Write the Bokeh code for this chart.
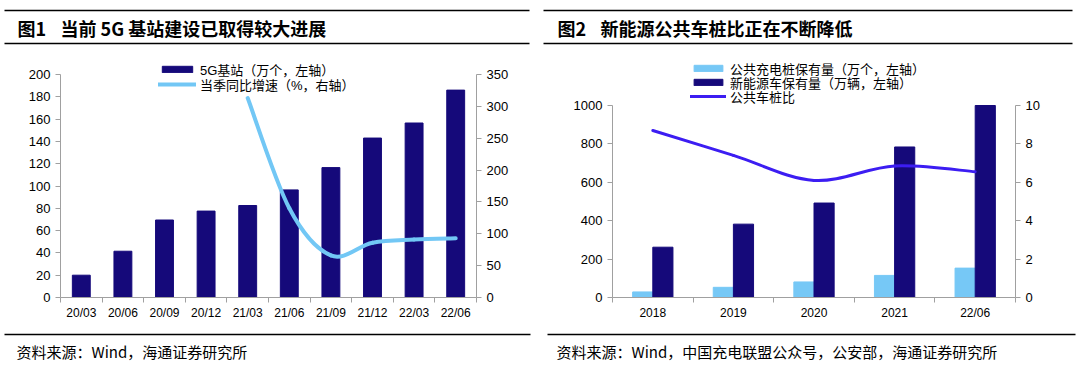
import numpy as np
from bokeh.plotting import figure
from bokeh.models import (Range1d, LinearAxis, FixedTicker, Legend, LegendItem, ColumnDataSource)
from bokeh.core.properties import value
from bokeh.layouts import row, column
from bokeh.embed import file_html
from bokeh.resources import INLINE

# ---------------- data: chart 1 ----------------
quarters = ["20/03", "20/06", "20/09", "20/12", "21/03", "21/06", "21/09", "21/12", "22/03", "22/06"]
base_stations = [20, 41.5, 69.5, 77.5, 82.5, 96.5, 116.5, 143, 156.5, 186]   # 万个
growth_quarters = ["21/03", "21/06", "21/09", "21/12", "22/03", "22/06"]
growth = [313, 140, 66, 86, 91, 93]                                            # %
left1_ticks = list(range(0, 201, 20))
right1_ticks = list(range(0, 351, 50))

# ---------------- data: chart 2 ----------------
years = ["2018", "2019", "2020", "2021", "22/06"]
public_piles = [29, 53, 81, 115, 153]        # 万个
nev_stock = [262, 382, 492, 784, 1000]       # 万辆
car_pile_ratio = [8.7, 7.4, 6.1, 6.85, 6.55]
left2_ticks = list(range(0, 1001, 200))
right2_ticks = list(range(0, 11, 2))

# ---------------- texts ----------------
titles = [("图1", "当前 5G 基站建设已取得较大进展"), ("图2", "新能源公共车桩比正在不断降低")]
sources = ["资料来源：Wind，海通证券研究所",
           "资料来源：Wind，中国充电联盟公众号，公安部，海通证券研究所"]
legend1_labels = ["5G基站（万个，左轴）", "当季同比增速（%，右轴）"]
legend2_labels = ["公共充电桩保有量（万个，左轴）", "新能源车保有量（万辆，左轴）", "公共车桩比"]

FONT = "Noto Sans CJK SC"
NUM_FONT = "Liberation Sans"
NAVY = "#15097A"
SKY = "#72C7F5"
SKY_BAR = "#76C8F6"
VIOLET = "#3C1DF2"
AX = "#A0A0A0"

TOTAL_W = 1078
HEAD_H, MID_H, FOOT_H = 50, 272, 44
ROW_H = 17          # height bokeh gives one legend row


def smooth(xs, ys):
    """Bezier control points (Catmull-Rom style) through the data points."""
    n = len(xs)
    d = dict(x0=[], y0=[], x1=[], y1=[], cx0=[], cy0=[], cx1=[], cy1=[])
    for i in range(n - 1):
        xp, yp = (xs[i - 1], ys[i - 1]) if i > 0 else (xs[i], ys[i])
        xn, yn = (xs[i + 2], ys[i + 2]) if i + 2 < n else (xs[i + 1], ys[i + 1])
        d["x0"].append(xs[i]); d["y0"].append(ys[i])
        d["x1"].append(xs[i + 1]); d["y1"].append(ys[i + 1])
        d["cx0"].append(xs[i] + (xs[i + 1] - xp) / 6)
        d["cy0"].append(ys[i] + (ys[i + 1] - yp) / 6)
        d["cx1"].append(xs[i + 1] - (xn - xs[i]) / 6)
        d["cy1"].append(ys[i + 1] - (yn - ys[i]) / 6)
    return ColumnDataSource(d)


def plain_fig(W, H):
    """A figure whose frame is the whole canvas, in pixel units (y down)."""
    p = figure(width=W, height=H, min_border=0, x_range=Range1d(0, W), y_range=Range1d(H, 0),
               output_backend="svg", toolbar_location=None)
    p.axis.visible = False
    p.grid.visible = False
    p.outline_line_color = None
    p.min_border_left = p.min_border_right = p.min_border_top = p.min_border_bottom = 0
    return p


def chart_fig(L, FW, W, T, FH, H):
    p = figure(width=W, height=H, frame_width=FW, frame_height=FH,
               min_border_left=L, min_border_top=T,
               min_border_right=W - L - FW, min_border_bottom=H - T - FH,
               output_backend="svg", toolbar_location=None)
    p.outline_line_color = None
    p.grid.visible = False
    return p


def style_y(ax, ticks):
    ax.ticker = FixedTicker(ticks=ticks, minor_ticks=[])
    ax.bounds = (ticks[0], ticks[-1])
    ax.axis_line_color = AX
    ax.major_tick_line_color = AX
    ax.major_tick_out = 5
    ax.major_tick_in = 0
    ax.minor_tick_out = 0
    ax.minor_tick_in = 0
    ax.major_label_text_font = NUM_FONT
    ax.major_label_text_font_size = "13px"
    ax.major_label_text_color = "#000000"
    ax.major_label_standoff = 5


def style_x(ax, cats):
    n = len(cats)
    centers = [i + 0.5 for i in range(n)]
    bounds = list(range(n + 1))
    ax.ticker = FixedTicker(ticks=centers, minor_ticks=bounds)
    ax.major_label_overrides = {c: lab for c, lab in zip(centers, cats)}
    ax.axis_line_color = AX
    ax.major_tick_out = 0
    ax.major_tick_in = 0
    ax.minor_tick_line_color = AX
    ax.minor_tick_out = 5
    ax.minor_tick_in = 0
    ax.major_label_text_font = NUM_FONT
    ax.major_label_text_font_size = "12px"
    ax.major_label_text_color = "#000000"
    ax.major_label_standoff = 3


def add_legend_rows(p, labels, renderers, x, centers, frame_bottom, gw):
    """One single-row legend per entry, so the row pitch matches the reference."""
    for lab, r, cy in zip(labels, renderers, centers):
        leg = Legend(items=[LegendItem(label=lab, renderers=[r])],
                     location=(x, frame_bottom - (cy + ROW_H / 2)))
        leg.border_line_alpha = 0
        leg.background_fill_alpha = 0
        leg.padding = 0
        leg.margin = 0
        leg.spacing = 0
        leg.glyph_width = gw
        leg.glyph_height = 8
        leg.label_height = 10
        leg.label_standoff = 4
        leg.label_text_font = "Liberation Sans, Noto Sans CJK SC"
        leg.label_text_font_size = "13px"
        leg.label_text_color = "#000000"
        leg.label_text_baseline = "middle"
        p.add_layout(leg)


# ---------------- header ----------------
head = plain_fig(TOTAL_W, HEAD_H)
head.segment(x0=[4, 4, 543, 543], x1=[529, 529, 1072, 1072], y0=[10, 43, 10, 43], y1=[10, 43, 10, 43],
             line_color="#000000", line_width=1.6)
head.text(x=[17, 557], y=[27, 27], text=[t[0] for t in titles], text_font=value(FONT),
          text_font_size="18px", text_font_style="bold", text_baseline="middle", text_color="#000000")
head.text(x=[60, 600], y=[27, 27], text=[t[1] for t in titles], text_font=value(FONT),
          text_font_size="18px", text_font_style="bold", text_baseline="middle", text_color="#000000")

# ---------------- charts: shared vertical frame (page y 50 .. 297) ----------------
T_MID, FH_MID = 0, 247
FRAME_BOTTOM_PAGE = HEAD_H + T_MID + FH_MID   # 297

# chart 1
L1, FW1, W1 = 60, 416, 540
p1 = chart_fig(L1, FW1, W1, T_MID, FH_MID, MID_H)
top1 = 200 * FH_MID / 223.0       # frame reaches above the 200 tick to hold the legend
p1.x_range = Range1d(0, len(quarters))
p1.y_range = Range1d(0, top1)
p1.extra_y_ranges = {"right": Range1d(0, top1 * 350 / 200)}
p1.add_layout(LinearAxis(y_range_name="right"), "right")
style_y(p1.yaxis[0], left1_ticks)
style_y(p1.yaxis[1], right1_ticks)
style_x(p1.xaxis[0], quarters)

qx = [i + 0.5 for i in range(len(quarters))]
bars1 = p1.vbar(x=qx, top=base_stations, width=0.43, bottom=0,
                fill_color=NAVY, line_color=NAVY)
gx = [quarters.index(q) + 0.5 for q in growth_quarters]
curve1 = p1.bezier(source=smooth(gx, growth), x0="x0", y0="y0", x1="x1", y1="y1",
                   cx0="cx0", cy0="cy0", cx1="cx1", cy1="cy1",
                   line_color=SKY, line_width=4, line_cap="round", y_range_name="right")
add_legend_rows(p1, legend1_labels, [bars1, curve1], 98, [70, 85], FRAME_BOTTOM_PAGE, 38)

# chart 2
L2, FW2, W2 = 72, 403, TOTAL_W - W1
p2 = chart_fig(L2, FW2, W2, T_MID, FH_MID, MID_H)
top2 = 1000 * FH_MID / 192.0
p2.x_range = Range1d(0, len(years))
p2.y_range = Range1d(0, top2)
p2.extra_y_ranges = {"right": Range1d(0, top2 * 10 / 1000)}
p2.add_layout(LinearAxis(y_range_name="right"), "right")
style_y(p2.yaxis[0], left2_ticks)
style_y(p2.yaxis[1], right2_ticks)
style_x(p2.xaxis[0], years)

yx = np.array([i + 0.5 for i in range(len(years))])
bars_a = p2.vbar(x=yx - 0.125, top=public_piles, width=0.25, bottom=0,
                 fill_color=SKY_BAR, line_color=SKY_BAR)
bars_b = p2.vbar(x=yx + 0.125, top=nev_stock, width=0.25, bottom=0,
                 fill_color=NAVY, line_color=NAVY)
curve2 = p2.bezier(source=smooth(list(yx), car_pile_ratio), x0="x0", y0="y0", x1="x1", y1="y1",
                   cx0="cx0", cy0="cy0", cx1="cx1", cy1="cy1",
                   line_color=VIOLET, line_width=3, line_cap="round", y_range_name="right")
add_legend_rows(p2, legend2_labels, [bars_a, bars_b, curve2], 78, [69, 83, 97], FRAME_BOTTOM_PAGE, 36)

# ---------------- footer ----------------
foot = plain_fig(TOTAL_W, FOOT_H)
foot.segment(x0=[4, 547], x1=[530, 1075], y0=[12, 12], y1=[12, 12],
             line_color="#000000", line_width=1.6)
foot.text(x=[16, 556], y=[29, 29], text=sources, text_font=value(FONT),
          text_font_size="15px", text_baseline="middle", text_color="#000000")

layout = column(head, row(p1, p2), foot)
open("out.html", "w").write(file_html(layout, INLINE))
